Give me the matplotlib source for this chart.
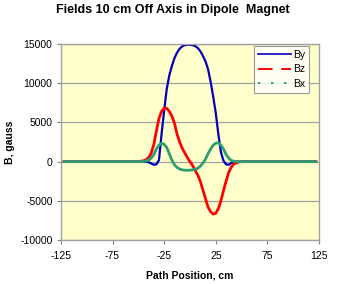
import matplotlib
matplotlib.use("Agg")
import matplotlib.pyplot as plt
from matplotlib.lines import Line2D

plt.rcParams['font.family'] = ['Liberation Sans', 'DejaVu Sans']
plt.rcParams['axes.unicode_minus'] = False

# path position, cm
pos = [-122, -60,
       -50, -47.5, -45, -42.5, -40, -37.5, -35, -32.5, -30, -27.5,
       -25, -22.5, -20, -17.5, -15, -12.5, -10, -7.5, -5, -2.5,
       0, 2.5, 5, 7.5, 10, 12.5, 15, 17.5, 20, 22.5,
       25, 27.5, 30, 32.5, 35, 37.5, 40, 42.5, 45, 47.5, 50,
       60, 122]

# fields, gauss
by = [0, 0,
      0, 0, 0, -20, -80, -250, -400, -350, 200, 3500,
      6500, 9250, 11000, 12200, 13200, 13900, 14400, 14700, 14850, 14900,
      14900, 14850, 14750, 14500, 14100, 13500, 12800, 11800, 10200, 8300,
      6200, 3500, 1200, 100, -350, -400, -200, -50, 0, 0, 0,
      0, 0]

bz = [0, 0,
      0, 50, 100, 250, 500, 1100, 2200, 3900, 5500, 6400,
      6800, 6800, 6400, 5800, 4900, 3500, 2500, 1700, 1100, 500,
      0, -500, -1100, -1700, -2500, -3600, -4700, -5800, -6400, -6700,
      -6600, -6000, -5000, -3700, -2500, -1400, -700, -300, -150, -50, 0,
      0, 0]

bx = [0, 0,
      0, 0, 30, 80, 200, 450, 900, 1600, 2100, 2350,
      2200, 1800, 1000, 200, -400, -750, -950, -1050, -1100, -1100,
      -1100, -1050, -1000, -850, -600, -200, 300, 1000, 1600, 2100,
      2350, 2400, 2100, 1600, 900, 450, 150, 50, 0, 0, 0,
      0, 0]

xticks = [-125, -75, -25, 25, 75, 125]
yticks = [-10000, -5000, 0, 5000, 10000, 15000]

c_by, c_bz, c_bx = "#0000bb", "#ff0000", "#2e9e72"

fig = plt.figure(figsize=(3.46, 2.84), dpi=100)
ax = fig.add_axes([0.176, 0.155, 0.746, 0.69])
ax.set_facecolor("#ffffcc")

for y in yticks:
    ax.axhline(y, color="#a0a0a0", linewidth=0.9, zorder=0)

ax.plot(pos, by, color=c_by, linewidth=1.6)
ax.plot(pos, bz, color=c_bz, linewidth=2.0)
ax.plot(pos, bx, color=c_bx, linewidth=2.0)

# legend keys are thin and dashed, unlike the plotted lines
handles = [
    Line2D([], [], color=c_by, linewidth=1.2),
    Line2D([], [], color=c_bz, linewidth=1.4, dashes=(7.5, 4.5)),
    Line2D([], [], color=c_bx, linewidth=1.4, dashes=(1.2, 5.5)),
]
leg = ax.legend(handles, ["By", "Bz", "Bx"], loc="upper right",
                bbox_to_anchor=(0.961, 0.99), borderaxespad=0,
                fontsize=7.5, frameon=True, fancybox=False,
                edgecolor="#808080", handlelength=3.2, borderpad=0.35,
                labelspacing=0.45, handletextpad=0.2)
leg.get_frame().set_linewidth(0.8)

ax.set_xlim(-125, 125)
ax.set_ylim(-10000, 15000)
ax.set_xticks(xticks)
ax.set_yticks(yticks)
ax.tick_params(labelsize=7.5, length=3, color="#808080")
ax.tick_params(axis="x", pad=5)
ax.tick_params(axis="y", pad=3)
for s in ax.spines.values():
    s.set_color("#a0a0a0")
    s.set_linewidth(1.0)

ax.set_xlabel("Path Position, cm", fontsize=7.5, fontweight="bold", labelpad=7)
ax.set_ylabel("B, gauss", fontsize=7.5, fontweight="bold", labelpad=4)
fig.suptitle("Fields 10 cm Off Axis in Dipole  Magnet", fontsize=9,
             fontweight="bold", x=0.5, y=0.985)

fig.savefig("out.png", dpi=100)
